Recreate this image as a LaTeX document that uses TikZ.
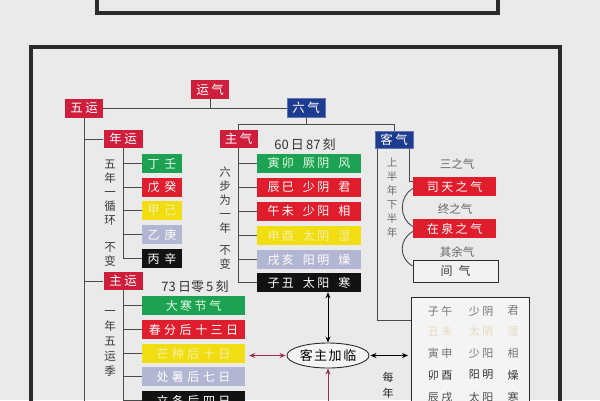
\documentclass[tikz,border=0pt]{standalone}
\usepackage{fontspec}
\setmainfont{Noto Sans CJK SC}
\usetikzlibrary{shapes.geometric,arrows.meta}
\definecolor{bgc}{HTML}{EAEAEA}
\definecolor{framec}{HTML}{2A2A2A}
\definecolor{lnc}{HTML}{4A4A4A}
\definecolor{redH}{HTML}{CF1E3C}
\definecolor{redB}{HTML}{E01D2C}
\definecolor{greenB}{HTML}{1DA152}
\definecolor{yellowB}{HTML}{F0DE12}
\definecolor{yellowT}{HTML}{F8F0A8}
\definecolor{lavB}{HTML}{B3B6D3}
\definecolor{blackB}{HTML}{121212}
\definecolor{blueB}{HTML}{1D3B8F}
\definecolor{maroon}{HTML}{9E2F4C}
\definecolor{vtc}{HTML}{3A3A3A}
\definecolor{faintY}{HTML}{E2DCC0}
\newcommand\ga{\hspace{2.5pt}}
\newcommand\gb{\hspace{9pt}}
\begin{document}
\begin{tikzpicture}[x=1pt,y=-1pt,
  box/.style={minimum height=19pt, inner sep=0pt, font=\fontsize{12}{13}\selectfont, text=white},
  hdr/.style={box, fill=redH, minimum width=38pt, font=\fontsize{12.5}{13}\selectfont},
  hdrb/.style={box, fill=blueB, draw=blueB!70!white, line width=0.6pt, minimum width=38pt, font=\fontsize{12.5}{13}\selectfont},
  sbox/.style={box, minimum width=40pt},
  wbox/.style={box, minimum width=103pt},
  gbox/.style={fill=greenB, text=green!10!white},
  rbox/.style={fill=redB, text=white},
  ybox/.style={fill=yellowB, text=yellowT},
  lbox/.style={fill=lavB, text=white},
  kbox/.style={fill=blackB, text=white},
  ln/.style={draw=lnc, line width=0.9pt},
  frame/.style={draw=framec, line width=3.5pt},
  arr/.style={draw=black, line width=1pt, {Stealth[length=6pt,width=5pt]}-{Stealth[length=6pt,width=5pt]}},
  marr/.style={draw=maroon, line width=1pt, {Stealth[length=6pt,width=5pt]}-{Stealth[length=6pt,width=5pt]}},
  vtext/.style={align=center, inner sep=0pt, text=vtc, font=\fontsize{11.5}{14}\selectfont},
  lbl/.style={inner sep=0pt, text=vtc, font=\fontsize{11.5}{12}\selectfont},
  rt/.style={inner sep=0pt, font=\fontsize{11}{12}\selectfont}]
\useasboundingbox (0,0) rectangle (600,400);
\clip (0,0) rectangle (600,400);
\fill[bgc] (0,0) rectangle (600,400);
\draw[frame] (97,-10) rectangle (498,13);
\draw[frame] (31,47) rectangle (560,440);

% headers
\node[hdr] (wy) at (84,108) {五\ga 运};
\node[hdr] (yq) at (210,89.5) {运\ga 气};
\node[hdrb] (lq) at (306,108) {六\ga 气};
\node[hdr, minimum height=18pt] (zq) at (238.5,139) {主\ga 气};
\node[hdrb, minimum height=17pt] (kq) at (394,140) {客\ga 气};
\node[hdr, minimum width=39pt, minimum height=18pt] (ny) at (123,139) {年\ga 运};
\node[hdr, minimum width=39pt, minimum height=18pt] (zy) at (123,281) {主\ga 运};

% 年运 children
\node[sbox, gbox] (n1) at (162,163.5) {丁\hspace{5pt}壬};
\node[sbox, rbox] (n2) at (162,187.5) {戊\hspace{5pt}癸};
\node[sbox, ybox] (n3) at (162,210.5) {甲\hspace{5pt}己};
\node[sbox, lbox] (n4) at (162,234.5) {乙\hspace{5pt}庚};
\node[sbox, kbox] (n5) at (162,258.5) {丙\hspace{5pt}辛};

% 主运 children
\node[wbox, gbox] (m1) at (193.5,305.5) {大\ga 寒\ga 节\ga 气};
\node[wbox, rbox] (m2) at (193.5,329.5) {春\hspace{3.5pt}分\hspace{3.5pt}后\hspace{3.5pt}十\hspace{3.5pt}三\hspace{3.5pt}日};
\node[wbox, ybox] (m3) at (193.5,353.5) {芒\hspace{3.5pt}种\hspace{3.5pt}后\hspace{3.5pt}十\hspace{3.5pt}日};
\node[wbox, lbox] (m4) at (193.5,376.5) {处\hspace{3.5pt}暑\hspace{3.5pt}后\hspace{3.5pt}七\hspace{3.5pt}日};
\node[wbox, kbox] (m5) at (193.5,400.5) {立\hspace{3.5pt}冬\hspace{3.5pt}后\hspace{3.5pt}四\hspace{3.5pt}日};

% 主气 children
\node[box, minimum width=104pt, gbox] (q1) at (309,163) {寅\ga 卯\gb 厥\ga 阴\gb 风};
\node[box, minimum width=104pt, rbox] (q2) at (309,187) {辰\ga 巳\gb 少\ga 阴\gb 君};
\node[box, minimum width=104pt, rbox] (q3) at (309,211) {午\ga 未\gb 少\ga 阳\gb 相};
\node[box, minimum width=104pt, ybox] (q4) at (309,235.5) {申\ga 酉\gb 太\ga 阴\gb 湿};
\node[box, minimum width=104pt, lbox] (q5) at (309,259.5) {戌\ga 亥\gb 阳\ga 明\gb 燥};
\node[box, minimum width=104pt, kbox] (q6) at (309,282.5) {子\ga 丑\gb 太\ga 阳\gb 寒};

% 客气 children
\node[box, minimum width=83pt, rbox] (st) at (454.5,186.5) {司\ga 天\ga 之\ga 气};
\node[box, minimum width=83pt, rbox] (zq2) at (454.5,228.5) {在\ga 泉\ga 之\ga 气};
\node[box, minimum width=85pt, minimum height=22pt, fill=bgc!60!white, draw=framec, line width=0.9pt, text=vtc] (jq) at (455.5,271) {间\hspace{6pt}气};
\node[lbl, text=gray!80!black] (l1) at (457,164) {三之气};
\node[lbl, text=gray!80!black] (l2) at (455,209) {终之气};
\node[lbl, text=gray!80!black] (l3) at (457,252) {其余气};

% number labels
\node[lbl, font=\fontsize{13}{14}\selectfont, text=black!80] (t60) at (305,145) {60\,日\,87\,刻};
\node[lbl, font=\fontsize{13}{14}\selectfont, text=black!80] (t73) at (195,287) {73\,日零\,5\,刻};

% vertical texts
\node[vtext] (v1) at (110,193) {五\\年\\一\\循\\环};
\node[vtext] (v2) at (110,255) {不\\变};
\node[vtext, font=\fontsize{11.5}{15}\selectfont] (v3) at (110,343) {一\\年\\五\\运\\季};
\node[vtext] (v4) at (225,200) {六\\步\\为\\一\\年};
\node[vtext] (v5) at (225,258) {不\\变};
\node[vtext, text=gray!85!black, font=\fontsize{10.5}{14}\selectfont] (v6) at (392,198) {上\\半\\年\\下\\半\\年};
\node[vtext, font=\fontsize{11}{16}\selectfont, text=black!85] (v7) at (388,385) {每\\年};

% right box
\node[draw=framec, line width=0.9pt, fill=bgc!50!white, minimum width=118pt, minimum height=130pt, inner sep=0pt] (rb) at (470.5,362) {};
\node[rt, text=gray!90!black] (r1a) at (440,311) {子\ga 午};
\node[rt, text=gray!90!black] (r1b) at (481,311) {少\ga 阴};
\node[rt, text=gray!90!black] (r1c) at (513,311) {君};
\node[rt, text=faintY] (r2a) at (440,331) {丑\ga 未};
\node[rt, text=faintY] (r2b) at (481,331) {太\ga 阴};
\node[rt, text=faintY] (r2c) at (513,331) {湿};
\node[rt, text=gray!90!black] (r3a) at (440,353) {寅\ga 申};
\node[rt, text=gray!90!black] (r3b) at (481,353) {少\ga 阳};
\node[rt, text=gray!90!black] (r3c) at (513,353) {相};
\node[rt, text=black!80] (r4a) at (440,375) {卯\ga 酉};
\node[rt, text=black!80] (r4b) at (481,375) {阳\ga 明};
\node[rt, text=black!80] (r4c) at (513,375) {燥};
\node[rt, text=black!70] (r5a) at (440,397) {辰\ga 戌};
\node[rt, text=black!70] (r5b) at (481,397) {太\ga 阳};
\node[rt, text=black!70] (r5c) at (513,397) {寒};

% ellipse
\node[ellipse, draw=framec, line width=0.9pt, fill=bgc!50!white, minimum width=82pt, minimum height=25pt, inner sep=0pt, font=\fontsize{13}{14}\selectfont] (ell) at (328,355.5) {客\hspace{1.5pt}主\hspace{1.5pt}加\hspace{1.5pt}临};

% coordinates
\coordinate (bar) at (0,124);
\coordinate (bot) at (0,410);
\coordinate (turn) at (377,320);
\coordinate (k2) at (409,181);

% connectors
\draw[ln] (wy.east) -- (lq.west);
\draw[ln] (yq.south) -- (yq.south |- wy.east);
\draw[ln] (lq.south) -- (lq.south |- bar);
\draw[ln] (zq.north) -- (zq.north |- bar) -- (kq.north |- bar) -- (kq.north);
\draw[ln] (wy.south) -- (wy.south |- bot);
\draw[ln] (wy.south |- ny.west) -- (ny.west);
\draw[ln] (wy.south |- zy.west) -- (zy.west);
\draw[ln] (ny.south) -- (ny.south |- n5.west);
\foreach \c in {n1,n2,n3,n4,n5} \draw[ln] (ny.south |- \c.west) -- (\c.west);
\draw[ln] (zy.south) -- (zy.south |- bot);
\foreach \c in {m1,m2,m3,m4,m5} \draw[ln] (zy.south |- \c.west) -- (\c.west);
\draw[ln] (zq.south) -- (zq.south |- q6.west);
\foreach \c in {q1,q2,q3,q4,q5,q6} \draw[ln] (zq.south |- \c.west) -- (\c.west);
\draw[ln] (kq.south -| turn) -- (turn) -- (turn -| rb.west);
\draw[ln] (kq.south -| k2) -- (k2) -- (k2 -| st.west);
\draw[ln] ([yshift=-2pt]st.west) .. controls +(-14,8) and +(-14,-8) .. ([yshift=2pt]zq2.west);
\draw[ln] ([yshift=-3pt]zq2.west) .. controls +(-14,8) and +(-14,-8) .. ([yshift=5pt]jq.west);

% arrows
\draw[arr] (ell.north) -- (ell.north |- q6.south);
\draw[marr, shorten <=1pt, shorten >=4pt] (ell.west) -- (ell.west -| m3.east);
\draw[arr, shorten <=1pt, shorten >=3pt] (ell.east) -- (ell.east -| rb.west);
\draw[draw=maroon, line width=1pt, -{Stealth[length=6pt,width=5pt]}] (ell.south |- bot) -- (ell.south);
\end{tikzpicture}
\end{document}
